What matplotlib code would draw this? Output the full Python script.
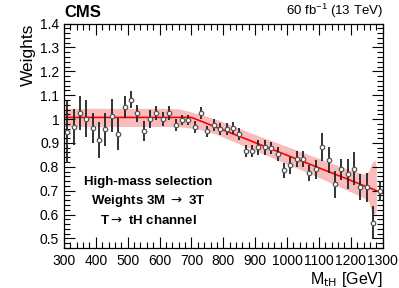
import numpy as np
import matplotlib
matplotlib.use("Agg")
import matplotlib.pyplot as plt
from matplotlib.ticker import MultipleLocator, FormatStrFormatter

plt.rcParams['font.family'] = ['Liberation Sans', 'DejaVu Sans']

# bin centres (GeV) and measured weights
mass = [310, 330, 350, 370, 390, 410, 430, 450, 470, 490,
        510, 530, 550, 570, 590, 610, 630, 650, 670, 690,
        710, 730, 750, 770, 790, 810, 830, 850, 870, 890,
        910, 930, 950, 970, 990, 1010, 1030, 1050, 1070, 1090,
        1110, 1130, 1150, 1170, 1190, 1210, 1230, 1250, 1270, 1290]
weights = [0.947, 0.967, 1.026, 1.001, 0.962, 0.912, 0.957, 1.015, 0.937, 1.050,
           1.081, 1.024, 0.950, 1.001, 1.026, 1.001, 1.026, 0.975, 0.996, 0.996,
           0.967, 1.026, 0.948, 0.975, 0.958, 0.958, 0.964, 0.936, 0.865, 0.865,
           0.881, 0.881, 0.879, 0.854, 0.785, 0.806, 0.833, 0.833, 0.774, 0.789,
           0.884, 0.829, 0.727, 0.789, 0.769, 0.792, 0.716, 0.714, 0.565, 0.698]
errors = [0.130, 0.075, 0.070, 0.078, 0.062, 0.074, 0.070, 0.070, 0.067, 0.045,
          0.036, 0.036, 0.042, 0.038, 0.030, 0.030, 0.028, 0.025, 0.020, 0.020,
          0.025, 0.026, 0.025, 0.025, 0.025, 0.025, 0.025, 0.025, 0.025, 0.025,
          0.030, 0.030, 0.025, 0.030, 0.030, 0.035, 0.035, 0.035, 0.033, 0.040,
          0.058, 0.056, 0.056, 0.045, 0.062, 0.069, 0.056, 0.060, 0.069, 0.043]

# fit: constant then linear
fit_x = [300, 700, 1300]
fit_y = [1.007, 1.007, 0.690]

# fit uncertainty band
band_x = [300, 620, 660, 700, 740, 780, 900, 1000, 1100, 1200, 1240, 1255, 1265, 1275, 1280]
band_hi = [1.045, 1.045, 1.043, 1.030, 1.015, 0.998, 0.935, 0.885, 0.835, 0.785, 0.770, 0.780, 0.813, 0.830, 0.800]
band_lo = [0.969, 0.969, 0.968, 0.962, 0.952, 0.935, 0.868, 0.812, 0.755, 0.695, 0.670, 0.655, 0.615, 0.600, 0.620]

fig = plt.figure(figsize=(3.99, 2.88), dpi=100)
ax = fig.add_axes([0.1604, 0.139, 0.7988, 0.779])

ax.fill_between(band_x, band_lo, band_hi, color='#f9bcbc', lw=0)
ax.plot(fit_x, fit_y, color='red', lw=1.2)
ax.errorbar(mass, weights, yerr=errors, fmt='o', color='black', ecolor='#222222',
            elinewidth=1.3, capsize=0, ms=3.2, mfc='white', mec='#555555', mew=0.9)

ax.set_xlim(300, 1300)
ax.set_ylim(0.46, 1.4)
ax.xaxis.set_major_locator(MultipleLocator(100))
ax.xaxis.set_minor_locator(MultipleLocator(20))
ax.yaxis.set_major_locator(MultipleLocator(0.1))
ax.yaxis.set_minor_locator(MultipleLocator(0.02))
ax.yaxis.set_major_formatter(FormatStrFormatter('%g'))
ax.tick_params(which='both', direction='in', top=True, right=True, labelsize=10, width=0.8)
ax.tick_params(which='major', length=8)
ax.tick_params(which='minor', length=4)
ax.tick_params(axis='x', pad=4)
for s in ax.spines.values():
    s.set_linewidth(0.9)

ax.set_ylabel('Weights', fontsize=12.5, loc='top', labelpad=3)
ax.set_xlabel(r'M$_{\mathrm{tH}}$ [GeV]', fontsize=11.5, loc='right', labelpad=2)

ax.text(0.0, 1.015, 'CMS', transform=ax.transAxes, fontsize=12, fontweight='bold',
        ha='left', va='bottom')
ax.text(1.0, 1.015, r'60 fb$^{\mathdefault{-1}}$ (13 TeV)', transform=ax.transAxes, fontsize=9.5,
        ha='right', va='bottom')

ax.text(0.265, 0.295, 'High-mass selection', transform=ax.transAxes, fontsize=9.5,
        fontweight='bold', ha='center', va='center')
ax.text(0.265, 0.208, r'Weights 3M $\rightarrow$ 3T', transform=ax.transAxes, fontsize=9.5,
        fontweight='bold', ha='center', va='center')
ax.text(0.265, 0.122, r'T$\rightarrow$ tH channel', transform=ax.transAxes, fontsize=9.5,
        fontweight='bold', ha='center', va='center')

fig.savefig('out.png', dpi=100)
